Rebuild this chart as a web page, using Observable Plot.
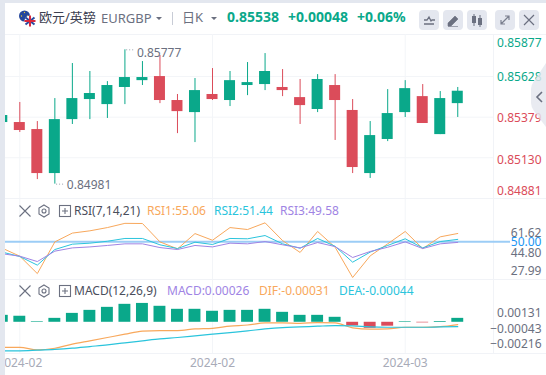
<!DOCTYPE html>
<html><head><meta charset="utf-8">
<script src="https://cdn.jsdelivr.net/npm/d3@7"></script>
<script src="https://cdn.jsdelivr.net/npm/@observablehq/plot@0.6"></script>
<style>
html,body{margin:0;padding:0;background:#fff;}
#wrap{position:relative;width:546px;height:375px;overflow:hidden;background:#fff;font-family:"Noto Sans","Noto Sans CJK SC",sans-serif;}
#wrap>svg,#charts svg{position:absolute;left:0;top:0;}
.t{position:absolute;white-space:nowrap;line-height:16px;height:16px;font-size:13px;}
.l{font-size:12px;}
.b{font-size:14px;font-weight:700;color:#0aa88a;}
.sep{position:absolute;background:#f1f3f7;}
.btn{position:absolute;top:10px;width:20px;height:20px;border-radius:4px;background:#e4e7ef;}
.btn svg{position:absolute;left:0;top:0;}
</style></head><body>
<div id="wrap">
  <div class="sep" style="left:5px;top:34px;width:541px;height:1px"></div>
  <div class="sep" style="left:5px;top:198px;width:541px;height:1px"></div>
  <div class="sep" style="left:5px;top:279px;width:541px;height:1px"></div>
  <div class="sep" style="left:5px;top:353px;width:541px;height:1px"></div>
  <div class="sep" style="left:493px;top:34px;width:1px;height:319px"></div>
  <div id="charts"></div>

  <div style="position:absolute;left:0;top:0;width:5px;height:375px;background:#e3e7ef;z-index:5"></div>
  <div style="position:absolute;left:0;top:0;width:546px;height:3px;background:#e3e7ef;z-index:5"></div>

  <svg width="546" height="375" style="z-index:6;pointer-events:none">
    <circle cx="24.5" cy="16" r="5.5" fill="#24479c"/>
    <circle cx="24.5" cy="12.5" r=".7" fill="#e8c63a"/><circle cx="21.5" cy="16" r=".7" fill="#e8c63a"/><circle cx="27.5" cy="16" r=".7" fill="#e8c63a"/>
    <circle cx="30" cy="21" r="5.5" fill="#fff"/>
    <path d="M25.5 17.5 L34.5 24.5 M34.5 17.5 L25.5 24.5" stroke="#2a4aa0" stroke-width="2"/>
    <path d="M24.5 21H35.5 M30 15.5V26.5" stroke="#d8283c" stroke-width="2"/>
    <path d="M156 17 h6 l-3 3z M211 17 h6 l-3 3z" fill="#6b7080"/>
    <rect x="172" y="12" width="1" height="13" fill="#c8ccd6"/>
    <g fill="none" stroke="#6b7080" stroke-width="1.1">
      <path d="M19.5 205.5 L30.5 216.5 M30.5 205.5 L19.5 216.5"/>
      <path d="M44 205 l5 3v6l-5 3l-5-3v-6z"/><circle cx="44" cy="211" r="2"/>
      <rect x="59.5" y="205.5" width="11" height="11"/><path d="M62 211h6M65 208v6"/>
      <path d="M19.5 285.5 L30.5 296.5 M30.5 285.5 L19.5 296.5"/>
      <path d="M44 285 l5 3v6l-5 3l-5-3v-6z"/><circle cx="44" cy="291" r="2"/>
      <rect x="59.5" y="285.5" width="11" height="11"/><path d="M62 291h6M65 288v6"/>
    </g>
    <path d="M546 63 L534 81 Q531 85 531 89 L531 103 Q531 107 534 111 L546 127Z" fill="#e4e6ee" fill-opacity=".82"/>
    <path d="M542 92 L537 97 L542 102" fill="none" stroke="#6b7080" stroke-width="1.6"/>
  </svg>

  <span class="t" style="left:39px;top:9px;color:#3c4050;z-index:7">欧元/英镑</span>
  <span class="t" style="left:101px;top:10px;color:#6b7080;z-index:7">EURGBP</span>
  <span class="t" style="left:182px;top:9px;color:#6b7080;z-index:7">日K</span>
  <span class="t b" style="left:227px;top:9px;z-index:7">0.85538</span>
  <span class="t b" style="left:288px;top:9px;z-index:7">+0.00048</span>
  <span class="t b" style="left:357px;top:9px;z-index:7">+0.06%</span>

  <span class="t l" style="left:74px;top:203px;color:#4a4e5c;z-index:7">RSI(7,14,21)</span>
  <span class="t l" style="left:147px;top:203px;color:#f8a85c;z-index:7">RSI1:55.06</span>
  <span class="t l" style="left:214px;top:203px;color:#2ac4dc;z-index:7">RSI2:51.44</span>
  <span class="t l" style="left:280px;top:203px;color:#a084e4;z-index:7">RSI3:49.58</span>

  <span class="t l" style="left:74px;top:283px;color:#4a4e5c;z-index:7">MACD(12,26,9)</span>
  <span class="t l" style="left:167px;top:283px;color:#a084e4;z-index:7">MACD:0.00026</span>
  <span class="t l" style="left:259px;top:283px;color:#f8a85c;z-index:7">DIF:-0.00031</span>
  <span class="t l" style="left:339px;top:283px;color:#2ac4dc;z-index:7">DEA:-0.00044</span>

  <div class="btn" style="left:419px;z-index:7"><svg width="20" height="20"><path d="M5 10h3l2-3 2 4 1-1h3M5 14h10" fill="none" stroke="#6b7080" stroke-width="1.3"/></svg></div>
  <div class="btn" style="left:443px;z-index:7"><svg width="20" height="20"><path d="M5 13l7-7 3 3-7 7H5z M5 16.5h10" fill="#6b7080" stroke="#6b7080" stroke-width=".6"/></svg></div>
  <div class="btn" style="left:467px;z-index:7"><svg width="20" height="20"><path d="M7 4v12M13 5v12" stroke="#6b7080"/><rect x="5" y="6" width="4" height="7" fill="#6b7080"/><rect x="11" y="8" width="4" height="7" fill="#6b7080"/></svg></div>
  <div class="btn" style="left:495px;z-index:7"><svg width="20" height="20"><path d="M6 14l8-8M10 6h4v4M6 10v4h4" fill="none" stroke="#7a7f8e" stroke-width="1.2"/></svg></div>
  <div class="btn" style="left:519px;z-index:7"><svg width="20" height="20"><path d="M5 5l10 10M15 5L5 15" fill="none" stroke="#6b7080" stroke-width="1.2"/></svg></div>
</div>
<script>
// ---- data ----
const opens  = [0.85346,0.85346,0.85303,0.85033,0.85364,0.85487,0.85456,0.85561,0.85603,0.85628,0.85481,0.85407,0.85518,0.85481,0.85573,0.85579,0.85561,0.85499,0.85426,0.85573,0.85420,0.85033,0.85242,0.85407,0.85505,0.85272,0.85462];
const closes = [0.85389,0.85297,0.85033,0.85364,0.85493,0.85524,0.85573,0.85622,0.85622,0.85481,0.85413,0.85542,0.85487,0.85603,0.85591,0.85659,0.85542,0.85450,0.85610,0.85481,0.85070,0.85266,0.85401,0.85554,0.85340,0.85493,0.85538];
const highs  = [0.85420,0.85469,0.85352,0.85493,0.85708,0.85659,0.85597,0.85792,0.85720,0.85757,0.85518,0.85616,0.85677,0.85659,0.85714,0.85769,0.85671,0.85610,0.85640,0.85640,0.85487,0.85352,0.85548,0.85603,0.85579,0.85536,0.85561];
const lows   = [0.85330,0.85285,0.84996,0.84968,0.85334,0.85364,0.85371,0.85456,0.85573,0.85462,0.85278,0.85223,0.85481,0.85444,0.85511,0.85542,0.85505,0.85334,0.85407,0.85236,0.85033,0.85003,0.85229,0.85377,0.85340,0.85272,0.85377];
const rsi1 = [46.0,41.1,30.4,49.9,55.3,56.7,58.7,61.3,61.2,49.9,45.6,55.0,50.9,58.7,57.5,61.62,50.7,43.4,56.3,46.6,27.99,41.3,48.7,56.3,45.8,53.0,55.06];
const rsi2 = [43.6,40.9,35.6,45.2,48.5,49.1,50.3,52.0,52.0,48.1,45.8,49.7,48.3,52.0,51.8,53.8,48.7,46.0,52.0,47.2,37.4,43.6,47.7,51.8,46.2,50.1,51.44];
const rsi3 = [42.6,41.1,37.8,44.2,46.2,46.8,47.7,48.7,48.7,46.4,45.2,47.7,46.8,49.1,48.7,50.1,48.1,46.2,49.5,47.0,40.3,44.0,46.6,49.9,45.8,48.7,49.58];
const hist = [0.00046,0.0004,0.00004,0.00026,0.00059,0.00079,0.00099,0.00119,0.00125,0.00106,0.00086,0.00086,0.00073,0.00079,0.00079,0.00086,0.00066,0.00046,0.00046,0.00033,-0.00024,-0.0004,-0.00026,0.00004,-0.00004,0.00005,0.00026];
const dif  = [-0.00167,-0.00167,-0.00183,-0.00172,-0.00145,-0.00123,-0.00101,-0.00079,-0.00059,-0.00055,-0.00055,-0.00044,-0.0004,-0.00026,-0.00018,-0.00004,-0.00004,-0.00007,-0.00002,-0.00004,-0.00037,-0.00046,-0.00044,-0.00033,-0.00033,-0.00029,-0.00015];
const dea  = [-0.00189,-0.00189,-0.00185,-0.0018,-0.00172,-0.00161,-0.0015,-0.00136,-0.00123,-0.0011,-0.00101,-0.0009,-0.00079,-0.00068,-0.00057,-0.00044,-0.00035,-0.00031,-0.00026,-0.00022,-0.00024,-0.00031,-0.00033,-0.00033,-0.00033,-0.00031,-0.00029];
const priceTicks = [0.85877,0.85628,0.85379,0.85130,0.84881];
const rsiTicks   = [61.62,44.80,27.99];
const macdTicks  = [0.00131,-0.00043,-0.00216];
const dateTicks  = [1,12,23];
const dateLabels = ["2024-02","2024-02","2024-03"];
const highLabel = "0.85777", lowLabel = "0.84981";

// ---- layout / style ----
const W=546,H=375,ML=5,MR=53;
const GREEN="#0aa88a",RED="#db4c5a",GRID="#f3f5f8",GRAY="#6b7080",ORANGE="#f8a85c",CYAN="#2ac4dc",PURPLE="#a084e4";
const xDomain=[0.183,28.04];
const FONT='"Noto Sans","Noto Sans CJK SC",sans-serif';
const idx=d3.range(opens.length);
const candles=idx.map(i=>({i,o:opens[i],c:closes[i],h:highs[i],l:lows[i]}));
const base={width:W,height:H,marginLeft:ML,marginRight:MR,style:{background:"transparent",fontFamily:FONT,overflow:"visible"},x:{domain:xDomain,axis:null}};
const colorOf=up=>up?GREEN:RED;
const yLabel=(v,dy,fill)=>Plot.text([v.v],{y:d=>d,text:()=>v.t,frameAnchor:"right",dx:48,dy,textAnchor:"end",fill,fontSize:12});
const vGrid=Plot.ruleX(dateTicks,{x:d=>d,stroke:GRID});

const fmt5=d3.format(".5f"),fmt2=d3.format(".2f");
const priceOff=[7,0.7,1.4,2.5,-7], priceCol=[GREEN,GREEN,RED,RED,RED];

const pricePlot=Plot.plot({...base,marginTop:34,marginBottom:H-198,y:{domain:[0.8488,0.85886],axis:null},marks:[
  Plot.ruleY(priceTicks.slice(1,4),{stroke:GRID}),
  vGrid,
  Plot.ruleX(candles,{x:"i",y1:"l",y2:"h",stroke:d=>colorOf(d.c>=d.o),strokeWidth:1,clip:true}),
  Plot.rectY(candles,{x1:d=>d.i-0.314,x2:d=>d.i+0.314,y1:"o",y2:"c",fill:d=>colorOf(d.c>=d.o),clip:true}),
  Plot.ruleY([highs[7]],{x1:7+0.1,x2:7+0.55,stroke:"#9aa0ac",strokeDasharray:"1,2"}),
  Plot.ruleY([lows[3]],{x1:3+0.1,x2:3+0.55,stroke:"#9aa0ac",strokeDasharray:"1,2"}),
  Plot.text([7],{x:d=>d,y:()=>highs[7],text:()=>highLabel,dx:12,dy:3,textAnchor:"start",fill:GRAY,fontSize:12}),
  Plot.text([3],{x:d=>d,y:()=>lows[3],text:()=>lowLabel,dx:12,dy:1.5,textAnchor:"start",fill:GRAY,fontSize:12}),
  ...priceTicks.map((v,k)=>yLabel({v,t:fmt5(v)},priceOff[k],priceCol[k]))
]});

const rsiLine=(arr,stroke)=>Plot.line(idx,{x:d=>d,y:d=>arr[d],stroke,strokeWidth:1,clip:true});
const rsiPlot=Plot.plot({...base,marginTop:199,marginBottom:H-279,y:{domain:[26.76,75.97],axis:null},marks:[
  vGrid,
  Plot.ruleY([50],{stroke:"#9ccdf6",strokeWidth:2,x1:xDomain[0],x2:xDomain[1]+0.97}),
  rsiLine(rsi1,ORANGE),rsiLine(rsi2,CYAN),rsiLine(rsi3,PURPLE),
  ...rsiTicks.map((v,k)=>yLabel({v,t:fmt2(v)},[10.4,2.6,-6][k],GRAY)),
  yLabel({v:50,t:"50.00"},0,"#2196f3")
]});

const macdLine=(arr,stroke)=>Plot.line(idx,{x:d=>d,y:d=>arr[d],stroke,strokeWidth:1.2,curve:"monotone-x",clip:true});
const macdPlot=Plot.plot({...base,marginTop:280,marginBottom:H-353,y:{domain:[-0.00207,0.00277],axis:null},marks:[
  vGrid,
  Plot.rectY(idx,{x1:d=>d-0.34,x2:d=>d+0.34,y1:()=>0,y2:d=>hist[d],fill:d=>colorOf(hist[d]>=0),clip:true}),
  macdLine(dif,ORANGE),macdLine(dea,CYAN),
  ...macdTicks.map((v,k)=>yLabel({v,t:fmt5(v)},[10.6,0,-10.4][k],GRAY)),
  Plot.axisX({ticks:dateTicks,tickFormat:d=>dateLabels[dateTicks.indexOf(d)],tickSize:0,tickPadding:5,fill:"#a8abb8",fontSize:12,anchor:"bottom"})
]});

const host=document.getElementById("charts");
[pricePlot,rsiPlot,macdPlot].forEach(p=>host.appendChild(p));
</script>
</body></html>
